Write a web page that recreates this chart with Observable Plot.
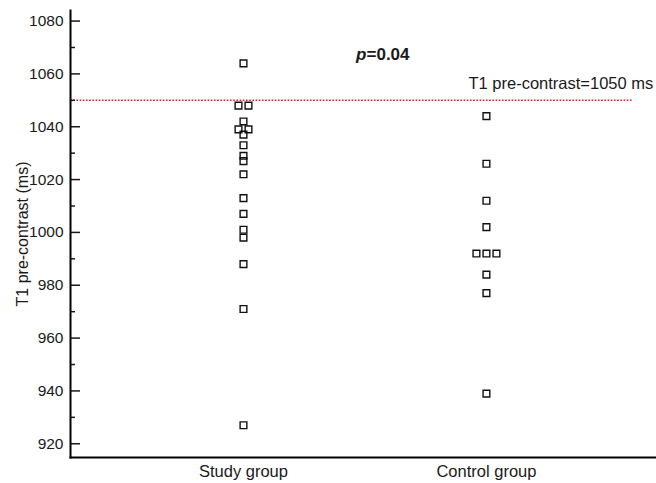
<!DOCTYPE html>
<html>
<head>
<meta charset="utf-8">
<script src="https://cdn.jsdelivr.net/npm/d3@7"></script>
<script src="https://cdn.jsdelivr.net/npm/@observablehq/plot@0.6"></script>
<style>
  body { margin: 0; background: #fff; }
  #chart svg { display: block; }
</style>
</head>
<body>
<div id="chart"></div>
<script>
// ---- data ----
const groups = ["Study group", "Control group"];
const studyValues = [1064, 1048, 1048, 1042, 1039, 1039, 1037, 1033, 1029, 1027, 1022, 1013, 1007, 1001, 998, 988, 971, 927];
const controlValues = [1044, 1026, 1012, 1002, 992, 992, 992, 984, 977, 939];
const yTicks = [920, 940, 960, 980, 1000, 1020, 1040, 1060, 1080];
const yMinorTicks = [930, 950, 970, 990, 1010, 1030, 1050, 1070];
const threshold = 1050;
const thresholdLabel = "T1 pre-contrast=1050 ms";
const pSymbol = "p";
const pValueText = "=0.04";
const yLabel = "T1 pre-contrast (ms)";

// ---- layout ----
const W = 656, H = 483;
const mL = 70, mR = 0, mT = 10, mB = 26;
const xDomain = [-0.712, 1.7];
const yDomain = [914.8, 1084];
const pxPerUnit = (W - mL - mR) / (xDomain[1] - xDomain[0]);
const spreadPx = 10; // horizontal spacing of tied points

function spread(values, gi) {
  const counts = d3.rollup(values, v => v.length, d => d);
  const seen = new Map();
  return values.map(v => {
    const n = counts.get(v);
    const i = seen.get(v) || 0;
    seen.set(v, i + 1);
    return { group: groups[gi], value: v, xpos: gi + (i - (n - 1) / 2) * spreadPx / pxPerUnit };
  });
}
const points = [...spread(studyValues, 0), ...spread(controlValues, 1)];

const chart = Plot.plot({
  width: W, height: H,
  marginLeft: mL, marginRight: mR, marginTop: mT, marginBottom: mB,
  style: { fontFamily: "'Liberation Sans', Arial, sans-serif", fontSize: "16.5px", color: "#1a1a1a", background: "#fff" },
  x: { type: "linear", domain: xDomain },
  y: { domain: yDomain },
  marks: [
    Plot.ruleY([threshold], { stroke: "#e8202a", strokeWidth: 1.6, strokeDasharray: "1.6,1.6", insetRight: 23 }),
    Plot.text([threshold], { y: d => d, text: () => thresholdLabel, frameAnchor: "left", textAnchor: "start", dx: 398, dy: -17, fontSize: 16.5 }),
    Plot.text([pSymbol], { text: d => d, frameAnchor: "top-left", dx: 296, dy: 37, textAnchor: "end", fontWeight: "bold", fontStyle: "italic", fontSize: 17 }),
    Plot.text([pValueText], { text: d => d, frameAnchor: "top-left", dx: 296, dy: 37, textAnchor: "start", fontWeight: "bold", fontSize: 17 }),
    Plot.axisX([0, 1], { tickFormat: i => groups[i], tickSize: 0, tickPadding: 8, label: null, fontSize: 16.5 }),
    Plot.axisY(yTicks, { tickSize: -10, tickPadding: 17, strokeWidth: 1.5, tickFormat: "d", label: null, fontSize: 15.5 }),
    Plot.axisY(yMinorTicks, { tickSize: -5, strokeWidth: 1.5, tickFormat: () => "", label: null }),
    Plot.text([yLabel], { text: d => d, frameAnchor: "left", textAnchor: "middle", rotate: -90, dx: -48, fontSize: 16 }),
    Plot.frame({ anchor: "left", strokeWidth: 2, stroke: "#000" }),
    Plot.frame({ anchor: "bottom", strokeWidth: 2, stroke: "#000" }),
    Plot.dot(points, { x: "xpos", y: "value", symbol: "square", r: 3.8, stroke: "#111", strokeWidth: 1.4, fill: "none" })
  ]
});
document.getElementById("chart").appendChild(chart);
</script>
</body>
</html>
